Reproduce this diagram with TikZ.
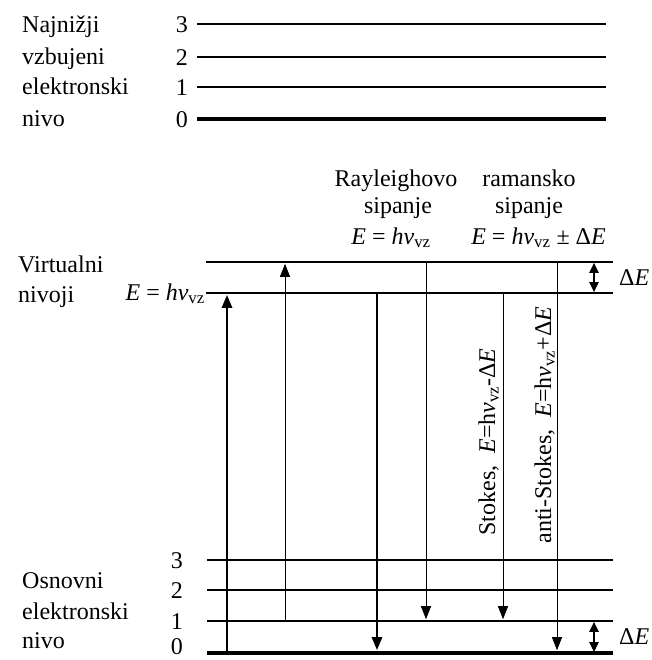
\documentclass[tikz,border=0pt]{standalone}
\usepackage{fontspec}
\setmainfont{Liberation Serif}
\usetikzlibrary{arrows.meta}
\begin{document}
\begin{tikzpicture}[x=1pt,y=-1pt,
  lvl/.style={line width=1.6pt},
  lvlthick/.style={line width=3.6pt},
  txt/.style={font=\fontsize{24}{28}\selectfont, inner sep=0pt},
  lbl/.style={txt, anchor=base west},
  num/.style={txt, anchor=base east},
  thinarr/.style={line width=0.9pt, -{Triangle[length=13pt,width=10pt]}, shorten >=0.8pt},
  thickarr/.style={line width=2.6pt, -{Triangle[length=13pt,width=10pt]}, shorten >=0.8pt},
  dblarr/.style={line width=2pt, {Triangle[length=10pt,width=9pt]}-{Triangle[length=10pt,width=9pt]}, shorten <=0.8pt, shorten >=0.8pt},
]
\useasboundingbox (0,0) rectangle (651,660);

% ---------- top: lowest excited electronic level
\node[lbl] (t1) at (22,33) {Najnižji};
\node[lbl] (t2) at (22,65) {vzbujeni};
\node[lbl] (t3) at (22,95) {elektronski};
\node[lbl] (t4) at (22,127) {nivo};
\node[num] (tn3) at (188,33) {3};
\node[num] (tn2) at (188,66) {2};
\node[num] (tn1) at (188,96) {1};
\node[num] (tn0) at (188,128) {0};
\draw[lvl] (197,24) -- (606,24);
\draw[lvl] (197,57) -- (606,57);
\draw[lvl] (197,87) -- (606,87);
\draw[lvlthick] (197,119) -- (606,119);

% ---------- headings
\node[txt, anchor=base] (r1) at (396,186) {Rayleighovo};
\node[txt, anchor=base] (r2) at (398,214) {sipanje};
\node[txt, anchor=base] (r3) at (391,244) {\textit{E} = \textit{hν}\textsubscript{vz}};
\node[txt, anchor=base] (m1) at (529,186) {ramansko};
\node[txt, anchor=base] (m2) at (529,214) {sipanje};
\node[txt, anchor=base east] (m3) at (606,244) {\textit{E} = \textit{hν}\textsubscript{vz} ± Δ\textit{E}};

% ---------- virtual levels
\node[lbl] (v1) at (18,272) {Virtualni};
\node[lbl] (v2) at (18,302) {nivoji};
\node[txt, anchor=base east] (ev) at (205,300) {\textit{E} = \textit{hν}\textsubscript{vz}};
\draw[lvl] (206,262) -- (613,262);
\draw[lvl] (206,293) -- (613,293);
\coordinate (dv1) at (594,262);
\coordinate (dv2) at (594,293);
\draw[dblarr] (dv1) -- (dv2);
\node[lbl] (dev) at (619,285) {Δ\textit{E}};

% ---------- ground levels
\node[lbl] (g1) at (22,588) {Osnovni};
\node[lbl] (g2) at (22,619) {elektronski};
\node[lbl] (g3) at (22,648) {nivo};
\node[num] (gn3) at (183,568) {3};
\node[num] (gn2) at (183,598) {2};
\node[num] (gn1) at (183,629) {1};
\node[num] (gn0) at (183,654) {0};
\draw[lvl] (207,560) -- (613,560);
\draw[lvl] (207,590) -- (613,590);
\draw[lvl] (207,621) -- (613,621);
\draw[lvlthick] (207,653) -- (613,653);
\coordinate (dg1) at (594,621);
\coordinate (dg2) at (594,653);
\draw[dblarr] (dg1) -- (dg2);
\node[lbl] (deg) at (619,644) {Δ\textit{E}};

% ---------- transitions
\coordinate (a1s) at (227,653); \coordinate (a1e) at (227,294);
\coordinate (a2s) at (285,621); \coordinate (a2e) at (285,263);
\coordinate (a3s) at (377,293); \coordinate (a3e) at (377,651);
\coordinate (a4s) at (426,262); \coordinate (a4e) at (426,620);
\coordinate (a5s) at (503,293); \coordinate (a5e) at (503,620);
\coordinate (a6s) at (557,262); \coordinate (a6e) at (557,651);
\draw[thickarr] (a1s) -- (a1e);
\draw[thinarr] (a2s) -- (a2e);
\draw[thickarr] (a3s) -- (a3e);
\draw[thinarr] (a4s) -- (a4e);
\draw[thinarr] (a5s) -- (a5e);
\draw[thinarr] (a6s) -- (a6e);

\node[txt, anchor=base, rotate=90] (st) at (495,442) {Stokes,\ \ \textit{E}=h\textit{ν}\textsubscript{vz}-Δ\textit{E}};
\node[txt, anchor=base, rotate=90] (ast) at (551,425) {anti-Stokes,\ \ \textit{E}=h\textit{ν}\textsubscript{vz}+Δ\textit{E}};
\end{tikzpicture}
\end{document}
